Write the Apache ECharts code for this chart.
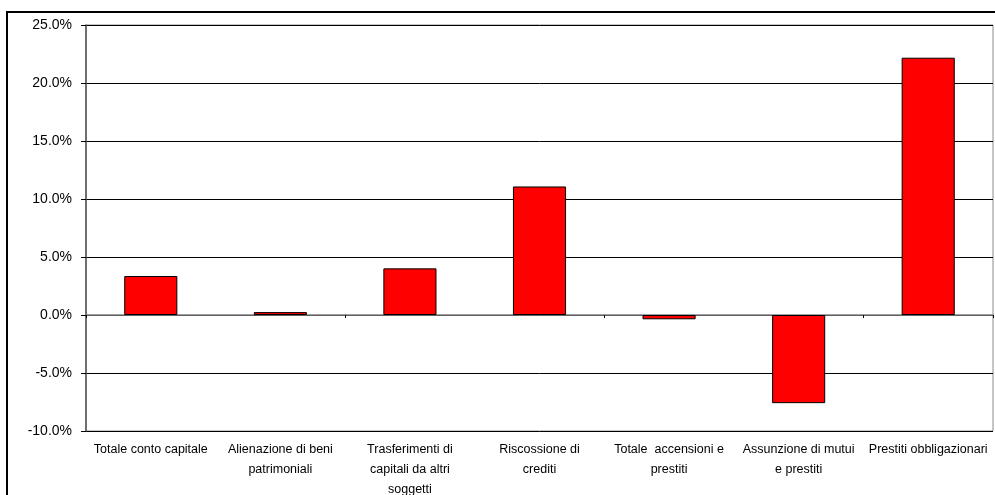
<!DOCTYPE html>
<html>
<head>
<meta charset="utf-8">
<script src="https://cdn.jsdelivr.net/npm/echarts@6/dist/echarts.min.js"></script>
<style>
  html, body { margin: 0; padding: 0; background: #fff; }
  #chart { width: 995px; height: 495px; }
</style>
</head>
<body>
<div id="chart"></div>
<script>
// Categories (with the line breaks used on the axis)
const categories = [
  'Totale conto capitale',
  'Alienazione di beni\npatrimoniali',
  'Trasferimenti di\ncapitali da altri\nsoggetti',
  'Riscossione di\ncrediti',
  'Totale  accensioni e\nprestiti',
  'Assunzione di mutui\ne prestiti',
  'Prestiti obbligazionari'
];

// Percentage change per category
const values = [3.36, 0.25, 4.02, 11.08, -0.37, -7.6, 22.18];

// Value axis range and step (percent)
const yMin = -10;
const yMax = 25;
const yStep = 5;

const chart = echarts.init(document.getElementById('chart'), null, { renderer: 'canvas' });

const font = 'Arial, "Liberation Sans", sans-serif';

chart.setOption({
  animation: false,
  backgroundColor: '#ffffff',
  graphic: [{
    type: 'rect',
    shape: { x: 7, y: 12, width: 1000, height: 500 },
    style: { fill: 'none', stroke: '#000', lineWidth: 2 },
    silent: true,
    z: 0
  }],
  grid: {
    left: 86, right: 2, top: 25, bottom: 64,
    outerBoundsMode: 'none',
    containLabel: false,
    show: true,
    borderColor: '#8c8c8c',
    borderWidth: 1,
    backgroundColor: 'transparent'
  },
  xAxis: [{
    type: 'category',
    data: categories,
    position: 'bottom',
    axisLine: { show: false, onZero: false },
    axisTick: { show: false },
    splitLine: { show: false },
    axisLabel: {
      interval: 0,
      margin: 9,
      fontFamily: font,
      fontSize: 12.5,
      lineHeight: 20,
      color: '#000',
      verticalAlign: 'top'
    }
  }, {
    type: 'category',
    data: categories,
    position: 'bottom',
    axisLine: { show: true, onZero: true, lineStyle: { color: '#808080', width: 1.5 } },
    axisTick: { show: true, inside: false, length: 3, lineStyle: { color: '#000', width: 1 } },
    axisLabel: { show: false },
    splitLine: { show: false }
  }],
  yAxis: {
    type: 'value',
    min: yMin,
    max: yMax,
    interval: yStep,
    axisLine: { show: true, onZero: false, lineStyle: { color: '#505050', width: 1.5 } },
    axisTick: { show: true, length: 5, lineStyle: { color: '#000' } },
    splitLine: { show: true, lineStyle: { color: '#000', width: 1 } },
    axisLabel: {
      margin: 14,
      fontFamily: font,
      fontSize: 14,
      color: '#000',
      formatter: v => v.toFixed(1) + '%'
    }
  },
  series: [{
    type: 'bar',
    data: values,
    xAxisIndex: 0,
    barWidth: '41%',
    itemStyle: { color: '#ff0000', borderColor: '#000', borderWidth: 1 },
    z: 3
  }]
});
</script>
</body>
</html>
